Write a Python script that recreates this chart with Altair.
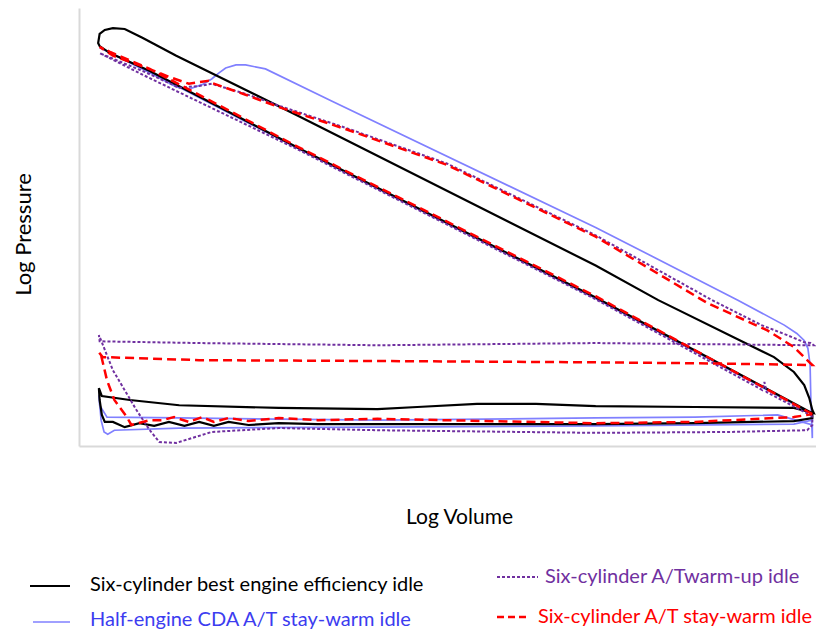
import altair as alt
import pandas as pd

# Log volume / log pressure in arbitrary units (0-100)
best_x = [99.5, 70.1, 29.7, 9.6, 4.2, 2.8, 2.6, 2.8, 3.5, 4.6, 6.2, 8.6, 13.2, 29.7, 70.1, 78.6, 94.3, 97.0, 98.4, 99.1, 99.5, 99.7,
          97.0, 83.6, 70.1, 62.0, 54.0, 45.9, 40.5, 27.1, 13.6, 6.9, 3.1, 2.7, 2.8, 3.1, 3.5,
          4.6, 6.2, 8.2, 10.2, 12.2, 14.3, 16.3, 18.3, 20.3, 23.0, 27.1, 32.4, 40.5, 49.9, 70.1, 83.6, 97.0, 99.5, 99.5]
best_y = [7.5, 33.9, 68.1, 85.6, 89.7, 91.3, 92.0, 94.1, 95.0, 95.4, 95.2, 93.2, 89.1, 75.4, 41.2, 33.3, 20.3, 16.9, 13.9, 10.9, 8.2, 7.5,
          8.7, 8.9, 9.1, 9.6, 9.6, 8.9, 8.4, 8.7, 9.3, 10.5, 11.4, 13.2, 10.5, 7.1, 5.5,
          5.5, 4.3, 5.2, 4.6, 5.5, 4.6, 5.5, 4.6, 5.5, 4.8, 5.2, 5.0, 5.0, 5.0, 5.0, 5.2, 5.7, 6.4, 7.5]

cda_x = [99.5, 70.1, 29.7, 9.6, 2.8, 9.6, 13.2, 14.9, 16.7, 18.0, 19.0, 19.9, 21.3, 22.6, 25.3, 34.2, 70.1, 89.4, 95.7, 97.4, 98.4, 98.9, 99.2, 99.3, 99.5, 99.5,
         94.8, 83.6, 70.1, 40.5, 13.6, 3.8, 2.8, 2.7, 3.0, 3.4, 3.9, 4.8, 13.6, 40.5, 70.1, 97.0, 99.5, 99.5]
cda_y = [7.3, 33.7, 67.9, 85.4, 90.9, 85.2, 82.0, 81.5, 82.5, 83.8, 85.2, 86.3, 87.0, 87.0, 86.1, 78.8, 49.9, 33.3, 27.6, 25.7, 24.1, 22.3, 18.5, 10.5, 1.8, 4.8,
         7.1, 6.6, 6.4, 5.9, 6.4, 6.6, 9.3, 11.6, 5.9, 3.2, 2.7, 3.6, 4.1, 4.3, 4.6, 5.0, 5.9, 7.3]

warm_x = [99.5, 93.3, 93.0, 92.7, 70.1, 29.7, 9.2, 2.8, 9.2, 13.6, 16.3, 18.0, 22.6, 27.1, 36.1, 49.9, 70.1, 85.9, 92.6, 96.1, 98.4, 99.3, 99.7,
          70.1, 40.5, 16.3, 2.8, 2.7, 3.0, 4.6, 7.8, 9.6, 10.9, 13.2, 15.3, 18.0, 27.1, 40.5, 70.1, 88.0, 98.8, 99.5, 99.5]
warm_y = [6.8, 12.3, 14.6, 12.8, 33.5, 67.7, 84.3, 89.7, 85.2, 81.8, 82.2, 82.7, 80.4, 77.7, 72.7, 64.5, 48.1, 33.3, 27.6, 25.3, 23.7, 23.5, 23.0,
          23.5, 23.0, 23.5, 23.9, 25.3, 24.1, 17.3, 8.2, 3.6, 0.9, 0.7, 1.8, 3.2, 4.1, 3.6, 3.0, 3.2, 3.6, 4.8, 6.8]

stay_x = [99.5, 70.1, 29.7, 9.6, 4.2, 2.8, 4.6, 9.2, 12.2, 14.9, 17.6, 18.0, 22.6, 27.1, 36.1, 49.9, 70.1, 85.3, 93.4, 97.0, 98.8, 99.5,
          83.6, 70.1, 40.5, 16.3, 3.2, 2.7, 3.0, 3.8, 4.8, 6.5, 7.1, 9.6, 11.3, 12.9, 14.9, 16.7, 18.3, 20.3, 23.0, 27.1, 32.4, 40.5, 70.1, 83.6, 97.0, 99.5]
stay_y = [7.3, 34.2, 68.3, 86.1, 90.0, 91.1, 89.1, 86.3, 84.3, 82.7, 83.4, 82.9, 80.2, 77.4, 72.4, 64.2, 47.8, 32.6, 26.4, 22.6, 19.6, 18.5,
          18.9, 19.1, 19.4, 19.6, 20.3, 21.4, 20.7, 15.0, 10.5, 6.6, 4.8, 5.9, 5.9, 6.6, 5.5, 6.6, 5.5, 6.4, 5.7, 6.4, 5.9, 6.2, 5.2, 5.5, 6.6, 7.3]

names = ["Six-cylinder best engine efficiency idle", "Half-engine CDA A/T stay-warm idle",
         "Six-cylinder A/Twarm-up idle", "Six-cylinder A/T stay-warm idle"]
line_colors = ["#000000", "#8080ff", "#7030a0", "#ff0000"]
text_colors = ["#000000", "#3c3cf0", "#7030a0", "#ff0000"]


def frame(xs, ys):
    return pd.DataFrame({"logV": xs, "logP": ys, "ord": list(range(len(xs)))})


x_enc = alt.X("logV:Q", scale=alt.Scale(domain=[0, 100], nice=False, zero=False),
              axis=alt.Axis(title="Log Volume", labels=False, ticks=False, grid=False,
                            domainColor="#d9d9d9", domainWidth=2, titleFont="Lato",
                            titleFontSize=21, titleFontWeight="normal", titleColor="#000000",
                            titlePadding=60, titleX=380))
y_enc = alt.Y("logP:Q", scale=alt.Scale(domain=[0, 100], nice=False, zero=False),
              axis=alt.Axis(title="Log Pressure", labels=False, ticks=False, grid=False,
                            domainColor="#d9d9d9", domainWidth=2, titleFont="Lato",
                            titleFontSize=22, titleFontWeight="normal", titleColor="#000000",
                            titlePadding=44, titleY=226))

cda = alt.Chart(frame(cda_x, cda_y)).mark_line(color=line_colors[1], strokeWidth=1.7).encode(
    x=x_enc, y=y_enc, order="ord:Q")
best = alt.Chart(frame(best_x, best_y)).mark_line(color=line_colors[0], strokeWidth=2.2).encode(
    x=x_enc, y=y_enc, order="ord:Q")
warm = alt.Chart(frame(warm_x, warm_y)).mark_line(color=line_colors[2], strokeWidth=2, strokeDash=[3, 2]).encode(
    x=x_enc, y=y_enc, order="ord:Q")
stay = alt.Chart(frame(stay_x, stay_y)).mark_line(color=line_colors[3], strokeWidth=2.5, strokeDash=[9, 5]).encode(
    x=x_enc, y=y_enc, order="ord:Q")

one = pd.DataFrame({"k": [0]})


def leg_line(x1, x2, y, color, dash=None, width=2):
    kw = dict(color=color, strokeWidth=width)
    if dash:
        kw["strokeDash"] = dash
    return alt.Chart(one).mark_rule(**kw).encode(x=alt.value(x1), x2=alt.value(x2), y=alt.value(y))


def leg_text(x, y, label, color):
    return alt.Chart(one).mark_text(text=label, align="left", baseline="middle", font="Lato",
                                    fontSize=20, color=color).encode(x=alt.value(x), y=alt.value(y))


legend = [
    leg_line(-49, -9, 578, line_colors[0], width=2.2),
    leg_text(11, 577, names[0], text_colors[0]),
    leg_line(-46, -9, 614, line_colors[1], width=1.7),
    leg_text(11, 612, names[1], text_colors[1]),
    leg_line(418, 459, 569, line_colors[2], dash=[3, 2], width=2),
    leg_text(466, 569, names[2], text_colors[2]),
    leg_line(418, 451, 609, line_colors[3], dash=[7, 4], width=2.5),
    leg_text(459, 609, names[3], text_colors[3]),
]

chart = alt.layer(cda, best, warm, stay, *legend).properties(
    width=737, height=438,
    padding={"left": 71, "top": 0, "right": 0, "bottom": 187},
    autosize="none",
).configure_view(stroke=None)

chart.save("out.html", embed_options={"renderer": "svg", "actions": False})
